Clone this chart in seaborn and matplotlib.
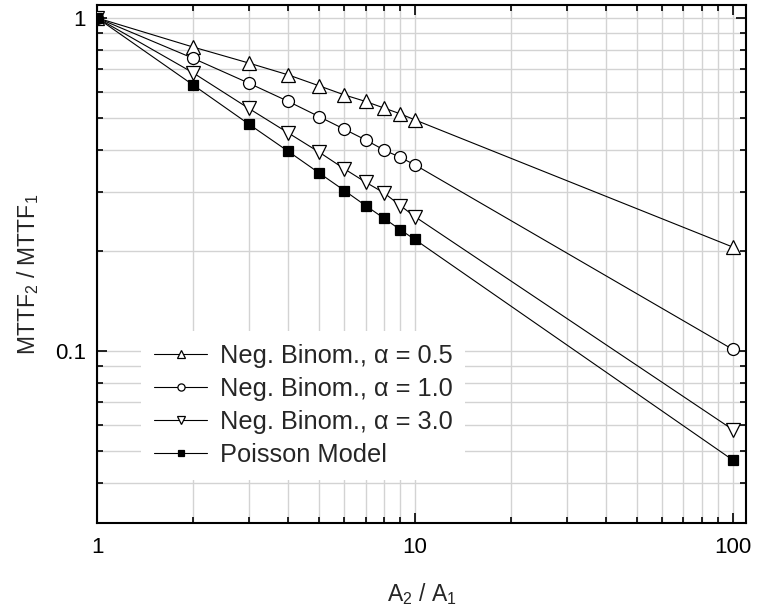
import matplotlib
matplotlib.use("Agg")
import matplotlib.pyplot as plt
import seaborn as sns
import pandas as pd
import numpy as np
from matplotlib.ticker import LogLocator, NullFormatter, FixedLocator, FixedFormatter

# ---- data ----
area_ratio = [1, 2, 3, 4, 5, 6, 7, 8, 9, 10, 100]
nb_alpha_05 = [1.0, 0.818, 0.732, 0.674, 0.625, 0.587, 0.561, 0.536, 0.515, 0.494, 0.205]
nb_alpha_10 = [1.0, 0.757, 0.637, 0.561, 0.505, 0.463, 0.430, 0.401, 0.381, 0.362, 0.101]
nb_alpha_30 = [1.0, 0.685, 0.535, 0.451, 0.395, 0.352, 0.321, 0.298, 0.273, 0.253, 0.058]
poisson = [1.0, 0.630, 0.480, 0.397, 0.342, 0.303, 0.273, 0.250, 0.231, 0.216, 0.047]

labels = ["Neg. Binom., α = 0.5", "Neg. Binom., α = 1.0",
          "Neg. Binom., α = 3.0", "Poisson Model"]
series = [nb_alpha_05, nb_alpha_10, nb_alpha_30, poisson]

sns.set_style("ticks")
plt.rcParams['font.family'] = ['Liberation Sans', 'DejaVu Sans']
plt.rcParams['mathtext.fontset'] = 'custom'
plt.rcParams['mathtext.rm'] = 'Liberation Sans'
plt.rcParams['mathtext.it'] = 'Liberation Sans'

df = pd.concat([pd.DataFrame({"x": area_ratio, "y": s, "model": lab})
                for s, lab in zip(series, labels)], ignore_index=True)

fig = plt.figure(figsize=(7.58, 6.11), dpi=100)
ax = fig.add_axes([0.128, 0.144, 0.856, 0.848])

marker_map = {labels[0]: "^", labels[1]: "o", labels[2]: "v", labels[3]: "s"}
size_map = {labels[0]: 9.5, labels[1]: 8.6, labels[2]: 9.5, labels[3]: 7.4}
face_map = {labels[0]: "white", labels[1]: "white", labels[2]: "white", labels[3]: "black"}

for lab in labels:
    sub = df[df["model"] == lab]
    sns.lineplot(data=sub, x="x", y="y", ax=ax, color="black", linewidth=0.8,
                 marker=marker_map[lab], markersize=size_map[lab],
                 markerfacecolor=face_map[lab], markeredgecolor="black",
                 markeredgewidth=0.9, label=lab, zorder=3)

ax.set_xscale("log")
ax.set_yscale("log")
ax.set_xlim(1, 110)
ax.set_ylim(0.0304, 1.094)

ax.xaxis.set_major_locator(FixedLocator([1, 10, 100]))
ax.xaxis.set_major_formatter(FixedFormatter(["1", "10", "100"]))
ax.xaxis.set_minor_locator(LogLocator(base=10, subs=np.arange(2, 10)))
ax.xaxis.set_minor_formatter(NullFormatter())
ax.yaxis.set_major_locator(FixedLocator([0.1, 1]))
ax.yaxis.set_major_formatter(FixedFormatter(["0.1", "1"]))
ax.yaxis.set_minor_locator(LogLocator(base=10, subs=np.arange(2, 10)))
ax.yaxis.set_minor_formatter(NullFormatter())

ax.grid(True, which="both", color="#d3d3d3", linewidth=1.0, zorder=0)
ax.set_axisbelow(True)
ax.tick_params(which="both", direction="in", top=True, right=True, colors="black",
               labelsize=16, width=1.2)
ax.tick_params(axis="x", which="major", length=7, pad=10)
ax.tick_params(axis="y", which="major", length=7, pad=8)
ax.tick_params(which="minor", length=4)
for sp in ax.spines.values():
    sp.set_linewidth(1.5)
    sp.set_color("black")

ax.set_xlabel("A$_2$ / A$_1$", fontsize=16.5, labelpad=17)
ax.set_ylabel("MTTF$_2$ / MTTF$_1$", fontsize=16.5)
ax.yaxis.set_label_coords(-0.086, 0.479)

leg = ax.legend(loc="lower left", bbox_to_anchor=(0.068, 0.083), fontsize=18.3,
                frameon=True, fancybox=False, markerscale=0.6, handlelength=2.1,
                handletextpad=0.5, labelspacing=0.36, borderpad=0.5,
                borderaxespad=0)
leg.get_frame().set_edgecolor("none")
leg.get_frame().set_facecolor("white")
leg.get_frame().set_alpha(1)

fig.savefig("out.png", dpi=100)
